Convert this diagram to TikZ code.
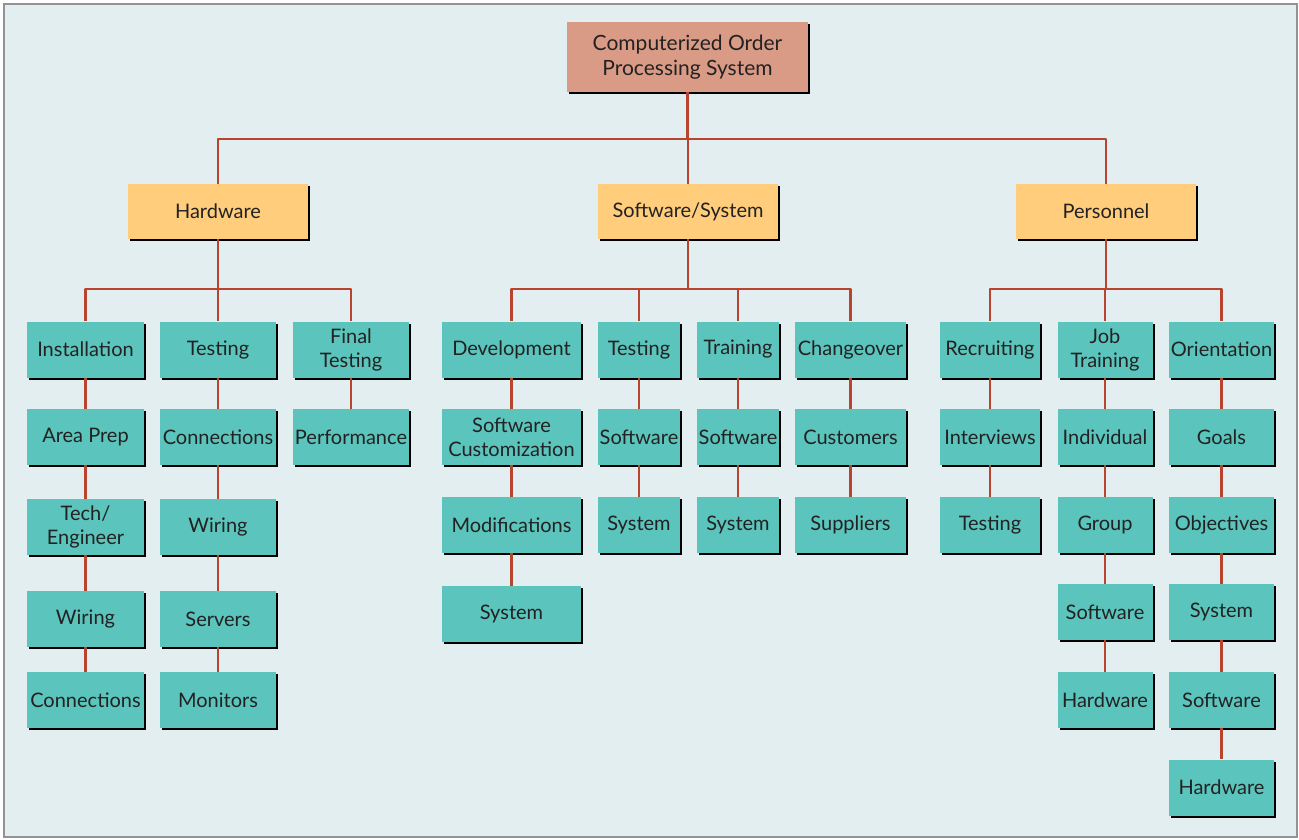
\documentclass[tikz,border=0pt]{standalone}
\usepackage{fontspec}
\setmainfont{Lato}
\usetikzlibrary{shadows}
\definecolor{panel}{HTML}{E3EEF0}
\definecolor{frameline}{HTML}{939396}
\definecolor{linkred}{HTML}{B8432F}
\definecolor{rootfill}{HTML}{D99B86}
\definecolor{groupfill}{HTML}{FFCD7B}
\definecolor{taskfill}{HTML}{5BC4BC}
\definecolor{ink}{HTML}{222222}
\tikzset{
  x=1pt, y=-1pt,
  box/.style={inner sep=0pt, align=center, text=ink,
    font=\fontsize{20}{24}\selectfont,
    general shadow={shadow xshift=2pt, shadow yshift=-2pt, fill=black}},
  rootbox/.style={box, fill=rootfill, minimum width=241pt, minimum height=70pt,
    font=\fontsize{21}{25}\selectfont},
  groupbox/.style={box, fill=groupfill, minimum width=180pt, minimum height=55pt},
  taskbox/.style={box, fill=taskfill, minimum height=56pt},
  link/.style={draw=linkred, line width=2.6pt, line join=round}
}
\begin{document}
\begin{tikzpicture}
% page and panel
\fill[white] (0,0) rectangle (1299,839);
\draw[frameline, line width=2pt, fill=panel] (4,4) rectangle (1297,837);

% root and the three groups
\node[rootbox] (root) at (687.5,57) {Computerized Order\\Processing System};
\node[groupbox] (hw) at (218,211.5) {Hardware};
\node[groupbox] (sw) at (688,211.5) {Software/System};
\node[groupbox] (pe) at (1106,211.5) {Personnel};

% Hardware branch
\node[taskbox, minimum width=117pt] (h1)  at (85.5,349.5) {Installation};
\node[taskbox, minimum width=117pt] (h1a) at (85.5,437) {Area Prep};
\node[taskbox, minimum width=117pt] (h1b) at (85.5,527) {Tech/\\Engineer};
\node[taskbox, minimum width=117pt] (h1c) at (85.5,619) {Wiring};
\node[taskbox, minimum width=117pt] (h1d) at (85.5,700) {Connections};
\node[taskbox, minimum width=116pt] (h2)  at (218,349.5) {Testing};
\node[taskbox, minimum width=116pt] (h2a) at (218,437) {Connections};
\node[taskbox, minimum width=116pt] (h2b) at (218,527) {Wiring};
\node[taskbox, minimum width=116pt] (h2c) at (218,619) {Servers};
\node[taskbox, minimum width=116pt] (h2d) at (218,700) {Monitors};
\node[taskbox, minimum width=116pt] (h3)  at (351,349.5) {Final\\Testing};
\node[taskbox, minimum width=116pt] (h3a) at (351,437) {Performance};

% Software/System branch
\node[taskbox, minimum width=139pt] (s1)  at (511.5,349.5) {Development};
\node[taskbox, minimum width=139pt] (s1a) at (511.5,437) {Software\\Customization};
\node[taskbox, minimum width=139pt] (s1b) at (511.5,525) {Modifications};
\node[taskbox, minimum width=139pt] (s1c) at (511.5,614) {System};
\node[taskbox, minimum width=82pt]  (s2)  at (639,349.5) {Testing};
\node[taskbox, minimum width=82pt]  (s2a) at (639,437) {Software};
\node[taskbox, minimum width=82pt]  (s2b) at (639,525) {System};
\node[taskbox, minimum width=82pt]  (s3)  at (738,349.5) {Training};
\node[taskbox, minimum width=82pt]  (s3a) at (738,437) {Software};
\node[taskbox, minimum width=82pt]  (s3b) at (738,525) {System};
\node[taskbox, minimum width=111pt] (s4)  at (850.5,349.5) {Changeover};
\node[taskbox, minimum width=111pt] (s4a) at (850.5,437) {Customers};
\node[taskbox, minimum width=111pt] (s4b) at (850.5,525) {Suppliers};

% Personnel branch
\node[taskbox, minimum width=100pt] (p1)  at (990,349.5) {Recruiting};
\node[taskbox, minimum width=100pt] (p1a) at (990,437) {Interviews};
\node[taskbox, minimum width=100pt] (p1b) at (990,525) {Testing};
\node[taskbox, minimum width=95pt]  (p2)  at (1105,349.5) {Job\\Training};
\node[taskbox, minimum width=95pt]  (p2a) at (1105,437) {Individual};
\node[taskbox, minimum width=95pt]  (p2b) at (1105,525) {Group};
\node[taskbox, minimum width=95pt]  (p2c) at (1105,612) {Software};
\node[taskbox, minimum width=95pt]  (p2d) at (1105,700) {Hardware};
\node[taskbox, minimum width=105pt] (p3)  at (1221.5,349.5) {Orientation};
\node[taskbox, minimum width=105pt] (p3a) at (1221.5,437) {Goals};
\node[taskbox, minimum width=105pt] (p3b) at (1221.5,525) {Objectives};
\node[taskbox, minimum width=105pt] (p3c) at (1221.5,612) {System};
\node[taskbox, minimum width=105pt] (p3d) at (1221.5,700) {Software};
\node[taskbox, minimum width=105pt] (p3e) at (1221.5,787.5) {Hardware};

% bus levels of the tree
\coordinate (bus0) at (0,139);
\coordinate (bus1) at (0,289);

% root to groups
\draw[link] (root.south) -- (root.south |- bus0);
\draw[link] (hw.north) -- (hw.north |- bus0) -- (pe.north |- bus0) -- (pe.north);
\draw[link] (sw.north) -- (sw.north |- bus0);

% groups to their first tasks
\draw[link] (hw.south) -- (hw.south |- bus1);
\draw[link] (h1.north) -- (h1.north |- bus1) -- (h3.north |- bus1) -- (h3.north);
\draw[link] (h2.north) -- (h2.north |- bus1);
\draw[link] (sw.south) -- (sw.south |- bus1);
\draw[link] (s1.north) -- (s1.north |- bus1) -- (s4.north |- bus1) -- (s4.north);
\draw[link] (s2.north) -- (s2.north |- bus1);
\draw[link] (s3.north) -- (s3.north |- bus1);
\draw[link] (pe.south) -- (pe.south |- bus1);
\draw[link] (p1.north) -- (p1.north |- bus1) -- (p3.north |- bus1) -- (p3.north);
\draw[link] (p2.north) -- (p2.north |- bus1);

% task chains
\draw[link] (h1.south) -- (h1a.north);
\draw[link] (h1a.south) -- (h1b.north);
\draw[link] (h1b.south) -- (h1c.north);
\draw[link] (h1c.south) -- (h1d.north);
\draw[link] (h2.south) -- (h2a.north);
\draw[link] (h2a.south) -- (h2b.north);
\draw[link] (h2b.south) -- (h2c.north);
\draw[link] (h2c.south) -- (h2d.north);
\draw[link] (h3.south) -- (h3a.north);
\draw[link] (s1.south) -- (s1a.north);
\draw[link] (s1a.south) -- (s1b.north);
\draw[link] (s1b.south) -- (s1c.north);
\draw[link] (s2.south) -- (s2a.north);
\draw[link] (s2a.south) -- (s2b.north);
\draw[link] (s3.south) -- (s3a.north);
\draw[link] (s3a.south) -- (s3b.north);
\draw[link] (s4.south) -- (s4a.north);
\draw[link] (s4a.south) -- (s4b.north);
\draw[link] (p1.south) -- (p1a.north);
\draw[link] (p1a.south) -- (p1b.north);
\draw[link] (p2.south) -- (p2a.north);
\draw[link] (p2a.south) -- (p2b.north);
\draw[link] (p2b.south) -- (p2c.north);
\draw[link] (p2c.south) -- (p2d.north);
\draw[link] (p3.south) -- (p3a.north);
\draw[link] (p3a.south) -- (p3b.north);
\draw[link] (p3b.south) -- (p3c.north);
\draw[link] (p3c.south) -- (p3d.north);
\draw[link] (p3d.south) -- (p3e.north);
\end{tikzpicture}
\end{document}
